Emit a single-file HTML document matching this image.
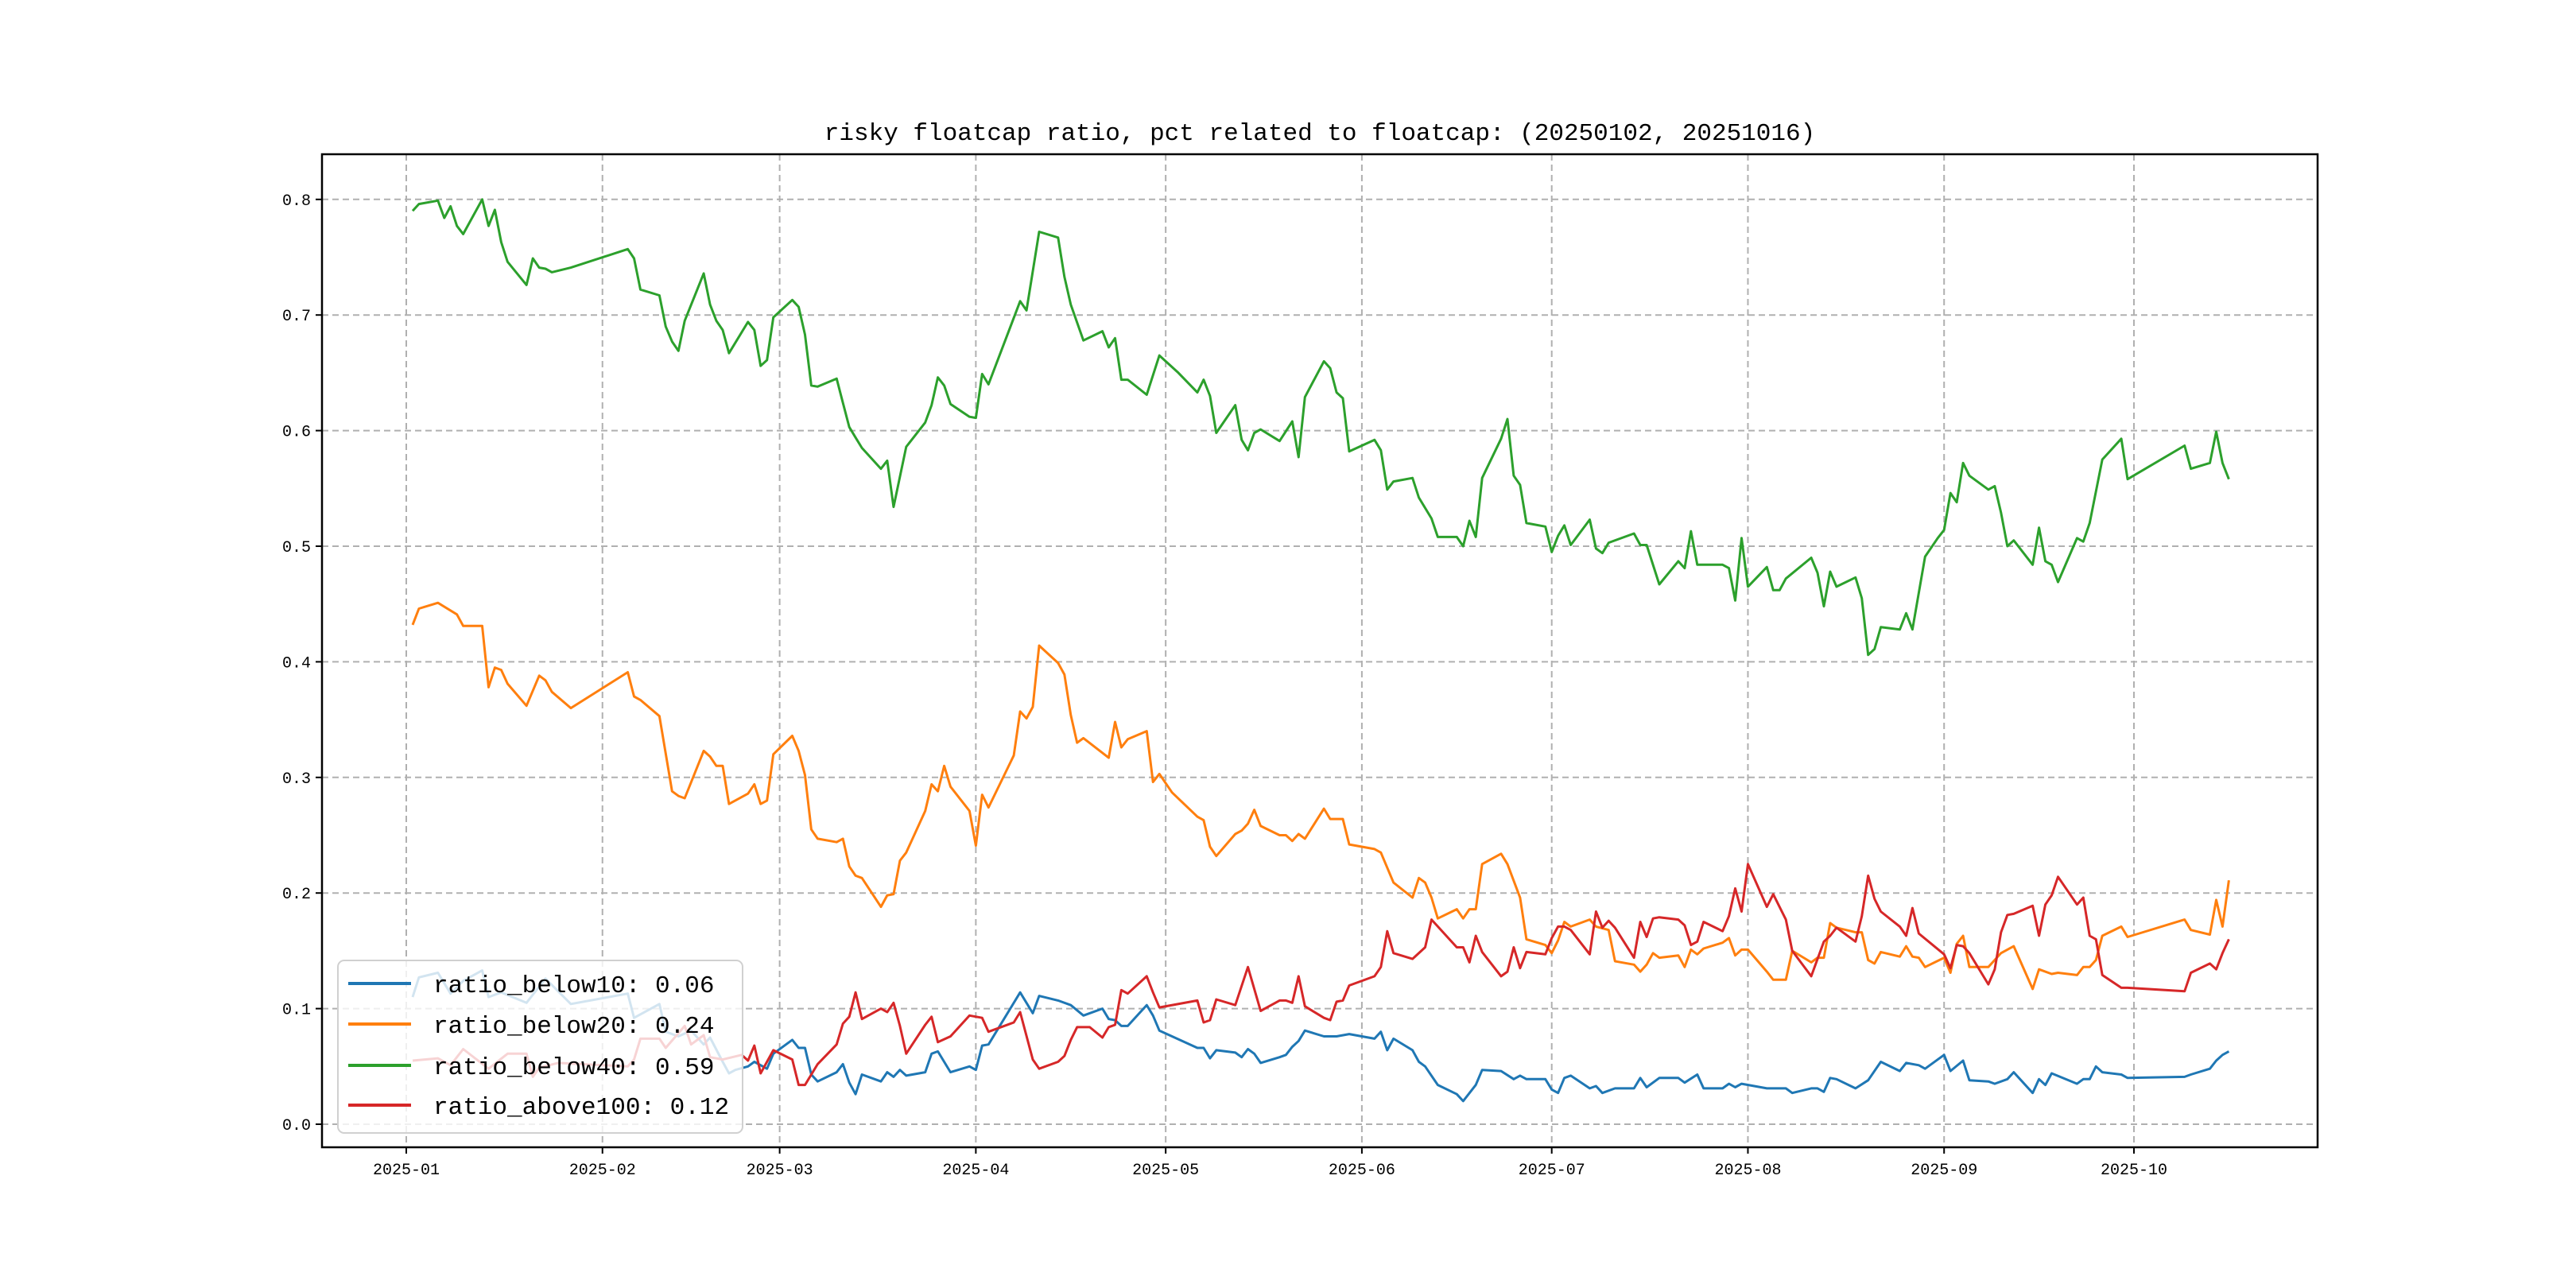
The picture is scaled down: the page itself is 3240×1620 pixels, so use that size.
<!DOCTYPE html>
<html><head><meta charset="utf-8"><style>
html,body{margin:0;padding:0;background:#fff}
svg{display:block}
text{font-family:"Liberation Mono","DejaVu Sans Mono",monospace;fill:#000}
</style></head><body>
<svg id="chart" width="3240" height="1620" viewBox="0 0 3240 1620" xmlns="http://www.w3.org/2000/svg">
<rect x="0" y="0" width="3240" height="1620" fill="#fff"/>
<text x="1660" y="176" font-size="31" text-anchor="middle">risky floatcap ratio, pct related to floatcap: (20250102, 20251016)</text>
<g id="grid"></g>
<g id="series"></g>
<rect x="405" y="194" width="2510" height="1249" fill="none" stroke="#000" stroke-width="2.5"/>
<g id="ticks"></g>
<g id="legend"></g>
</svg>
<script>
// day index: 0 = 2025-01-01
const monthTickDays = [0,31,59,90,120,151,181,212,243,273];
const monthTickLabels = ["2025-01","2025-02","2025-03","2025-04","2025-05","2025-06","2025-07","2025-08","2025-09","2025-10"];
const yTickValues = [0,0.1,0.2,0.3,0.4,0.5,0.6,0.7,0.8];
const yTickLabels = ["0.0","0.1","0.2","0.3","0.4","0.5","0.6","0.7","0.8"];
const seriesNames = ["ratio_below10","ratio_below20","ratio_below40","ratio_above100"];
const lastValues = ["0.06","0.24","0.59","0.12"];

const below10Days = [1,2,5,7,9,12,13,15,19,22,26,35,36,40,41,43,45,47,48,50,51,52,54,55,57,58,61,62,63,64,65,68,69,70,71,72,75,76,77,78,79,82,83,84,86,89,90,91,92,97,99,100,103,105,107,110,111,112,113,114,117,118,119,125,126,127,128,131,132,133,134,135,138,139,140,141,142,145,147,149,153,154,155,156,159,160,161,163,166,167,169,170,173,175,176,177,180,181,182,183,184,187,188,189,191,194,195,196,198,201,202,204,205,208,209,210,211,215,216,218,219,222,223,224,225,226,229,231,233,236,237,239,240,243,244,246,247,250,251,253,254,257,258,259,260,264,265,266,267,268,271,272,281,282,285,286,287,288];
const below10Vals = [.110,.127,.131,.113,.124,.133,.110,.114,.105,.126,.104,.113,.092,.104,.080,.076,.081,.069,.075,.054,.044,.047,.050,.054,.048,.061,.073,.066,.066,.043,.037,.045,.052,.036,.026,.043,.037,.045,.041,.047,.042,.045,.061,.063,.045,.050,.047,.068,.069,.114,.096,.111,.107,.103,.094,.100,.091,.090,.085,.085,.103,.094,.081,.066,.066,.057,.064,.062,.058,.065,.061,.053,.058,.060,.067,.072,.081,.076,.076,.078,.074,.080,.064,.074,.064,.054,.050,.034,.026,.020,.034,.047,.046,.039,.042,.039,.039,.030,.027,.040,.042,.031,.033,.027,.031,.031,.040,.032,.040,.040,.036,.043,.031,.031,.035,.032,.035,.031,.031,.031,.027,.031,.031,.028,.040,.039,.031,.038,.054,.046,.053,.051,.048,.060,.046,.055,.038,.037,.035,.039,.045,.027,.039,.034,.044,.035,.039,.039,.050,.045,.043,.040,.041,.043,.048,.055,.060,.063];

const below20Days = [1,2,5,8,9,12,13,14,15,16,19,21,22,23,26,35,36,37,40,42,43,44,47,48,49,50,51,54,55,56,57,58,61,62,63,64,65,68,69,70,71,72,75,76,77,78,79,82,83,84,85,86,89,90,91,92,96,97,98,99,100,103,104,105,106,107,111,112,113,114,117,118,119,121,125,126,127,128,131,132,133,134,135,138,139,140,141,142,145,146,148,149,153,154,156,159,160,161,162,163,166,167,168,169,170,173,174,176,177,180,181,182,183,184,187,188,190,191,194,195,196,197,198,201,202,203,204,205,208,209,210,211,212,215,216,218,219,222,223,224,225,226,229,230,231,232,233,236,237,238,239,240,243,244,245,246,247,250,252,254,257,258,260,261,264,265,266,267,268,271,272,281,282,285,286,287,288];
const below20Vals = [.432,.446,.451,.441,.431,.431,.378,.395,.393,.381,.362,.388,.384,.374,.360,.391,.370,.367,.353,.288,.284,.282,.323,.318,.310,.310,.277,.286,.294,.277,.280,.320,.336,.323,.302,.255,.247,.244,.247,.223,.215,.213,.188,.198,.199,.228,.235,.271,.294,.288,.310,.292,.271,.241,.285,.274,.319,.357,.351,.361,.414,.399,.389,.354,.330,.334,.317,.348,.326,.333,.340,.296,.303,.287,.266,.263,.240,.232,.251,.254,.260,.272,.258,.250,.250,.245,.251,.247,.273,.264,.264,.242,.238,.235,.209,.196,.213,.209,.196,.178,.186,.178,.186,.186,.225,.234,.225,.196,.160,.155,.148,.159,.175,.171,.177,.171,.168,.141,.138,.132,.138,.148,.144,.146,.136,.151,.147,.152,.157,.161,.146,.151,.151,.132,.125,.125,.150,.140,.144,.144,.174,.170,.166,.166,.142,.139,.149,.145,.154,.145,.144,.136,.144,.131,.156,.163,.136,.136,.148,.154,.117,.134,.130,.131,.129,.136,.136,.142,.163,.171,.162,.177,.168,.164,.194,.171,.211];

const below40Days = [1,2,5,6,7,8,9,12,13,14,15,16,19,20,21,22,23,26,35,36,37,40,41,42,43,44,47,48,49,50,51,54,55,56,57,58,61,62,63,64,65,68,69,70,71,72,75,76,77,79,82,83,84,85,86,89,90,91,92,97,98,100,103,104,105,107,110,111,112,113,114,117,119,122,125,126,127,128,131,132,133,134,135,138,140,141,142,145,146,147,148,149,153,154,155,156,159,160,162,163,166,167,168,169,170,173,174,175,176,177,180,181,182,183,184,187,188,189,190,194,195,196,198,201,202,203,204,208,209,210,211,212,215,216,217,218,222,223,224,225,226,229,230,231,232,233,236,237,238,240,242,243,244,245,246,247,250,251,252,253,254,257,258,259,260,261,264,265,266,268,269,271,272,281,282,285,286,287,288];
const below40Vals = [.790,.796,.799,.784,.794,.777,.770,.800,.777,.791,.763,.746,.726,.749,.741,.740,.737,.741,.757,.749,.722,.717,.690,.677,.669,.695,.736,.709,.695,.687,.667,.694,.687,.656,.661,.698,.713,.707,.683,.639,.638,.645,.624,.603,.594,.585,.567,.574,.534,.586,.607,.622,.646,.639,.623,.612,.611,.649,.640,.712,.704,.772,.767,.733,.709,.678,.686,.672,.680,.644,.644,.631,.665,.650,.633,.644,.630,.598,.622,.592,.583,.598,.601,.591,.608,.577,.629,.660,.654,.633,.628,.582,.592,.583,.549,.556,.559,.542,.524,.508,.508,.500,.522,.508,.559,.593,.610,.561,.553,.520,.517,.495,.509,.518,.501,.523,.498,.494,.503,.511,.501,.501,.467,.487,.481,.513,.484,.484,.481,.453,.507,.465,.482,.462,.462,.472,.490,.477,.448,.478,.465,.473,.455,.406,.411,.430,.428,.442,.428,.491,.507,.514,.546,.538,.572,.561,.549,.552,.529,.500,.505,.484,.516,.487,.484,.469,.507,.504,.520,.575,.581,.593,.558,.587,.567,.572,.599,.572,.558];

const above100Days = [1,5,7,9,13,16,19,20,21,24,35,36,37,40,41,44,45,47,48,50,53,54,55,56,58,61,62,63,65,68,69,70,71,72,75,76,77,78,79,82,83,84,86,89,91,92,96,97,99,100,103,104,105,106,108,110,111,112,113,114,117,118,119,125,126,127,128,131,133,135,138,139,140,141,142,145,146,147,148,149,153,154,155,156,159,161,162,166,167,168,169,170,173,174,175,176,177,180,181,182,183,184,187,188,189,190,191,194,195,196,197,198,201,202,203,204,205,208,209,210,211,212,215,216,218,219,222,224,225,226,229,230,231,232,233,236,237,238,239,243,244,245,246,247,250,251,252,253,254,257,258,259,260,261,264,265,266,267,268,271,272,281,282,285,286,287,288];
const above100Vals = [.055,.057,.051,.065,.048,.061,.061,.041,.049,.053,.050,.056,.074,.074,.066,.085,.069,.077,.058,.056,.060,.055,.068,.044,.064,.056,.034,.034,.052,.069,.087,.093,.114,.091,.100,.097,.105,.085,.061,.086,.093,.071,.076,.094,.092,.080,.088,.097,.056,.048,.054,.059,.073,.084,.084,.075,.084,.086,.116,.113,.128,.114,.101,.107,.088,.090,.108,.103,.136,.098,.107,.107,.105,.128,.102,.092,.090,.106,.107,.120,.128,.136,.167,.148,.143,.153,.177,.153,.153,.140,.163,.149,.128,.132,.153,.135,.149,.147,.161,.171,.171,.168,.147,.184,.170,.176,.170,.144,.175,.162,.178,.179,.177,.172,.155,.158,.175,.167,.180,.204,.184,.225,.188,.199,.177,.150,.128,.158,.163,.170,.158,.180,.215,.195,.184,.171,.163,.187,.165,.147,.135,.155,.154,.148,.121,.134,.166,.181,.182,.189,.163,.190,.198,.214,.190,.196,.163,.160,.129,.118,.118,.115,.131,.139,.134,.148,.160];

const NS = "http://www.w3.org/2000/svg";
const PL = 405, PR = 2915, PT = 194, PB = 1443;
function xScale(day){ return 511 + day * (2684 - 511) / 273; }
function yScale(v){ return 1414 - v * 1454; }
function mk(tag, attrs, parent){
  const e = document.createElementNS(NS, tag);
  for (const k in attrs) e.setAttribute(k, attrs[k]);
  parent.appendChild(e);
  return e;
}
const grid = document.getElementById('grid');
const ticks = document.getElementById('ticks');
const seriesG = document.getElementById('series');
const legend = document.getElementById('legend');

monthTickDays.forEach((d, i) => {
  const x = xScale(d);
  const gl = mk('line', {x1:x, x2:x, y1:PT, y2:PB, stroke:'#b0b0b0', 'stroke-width':2, 'stroke-dasharray':'8,5'}, grid);
  
  
  const tk = mk('line', {x1:x, x2:x, y1:PB, y2:PB + 8, stroke:'#000', 'stroke-width':2}, ticks);
  
  
  const t = mk('text', {x:x, y:PB + 34, 'font-size':20, 'text-anchor':'middle'}, ticks);
  t.textContent = monthTickLabels[i];
  
  
});
yTickValues.forEach((v, i) => {
  const y = yScale(v);
  const gl = mk('line', {x1:PL, x2:PR, y1:y, y2:y, stroke:'#b0b0b0', 'stroke-width':2, 'stroke-dasharray':'8,5'}, grid);
  
  
  const tk = mk('line', {x1:PL - 8, x2:PL, y1:y, y2:y, stroke:'#000', 'stroke-width':2}, ticks);
  
  
  const t = mk('text', {x:PL - 14, y:y + 7, 'font-size':20, 'text-anchor':'end'}, ticks);
  t.textContent = yTickLabels[i];
  
  
});

const colors = ['#1f77b4','#ff7f0e','#2ca02c','#d62728'];
const allDays = [below10Days, below20Days, below40Days, above100Days];
const allVals = [below10Vals, below20Vals, below40Vals, above100Vals];
allDays.forEach((days, s) => {
  const vals = allVals[s];
  const pts = days.map((d, i) => xScale(d).toFixed(1) + ',' + yScale(vals[i]).toFixed(1)).join(' ');
  const pl = mk('polyline', {points:pts, fill:'none', stroke:colors[s], 'stroke-width':3, 'stroke-linejoin':'round'}, seriesG);
  
  
});

const box = mk('rect', {x:425, y:1208, width:509, height:217, rx:8, fill:'#fff', 'fill-opacity':0.8, stroke:'#d0d0d0', 'stroke-width':2}, legend);


const rowY = [1237, 1288, 1340, 1390];
seriesNames.forEach((n, s) => {
  const ln = mk('line', {x1:438, x2:517, y1:rowY[s], y2:rowY[s], stroke:colors[s], 'stroke-width':4}, legend);
  
  
  const t = mk('text', {x:545, y:rowY[s] + 11, 'font-size':31}, legend);
  t.textContent = n + ': ' + lastValues[s];
  
  
});
</script>
</body></html>
